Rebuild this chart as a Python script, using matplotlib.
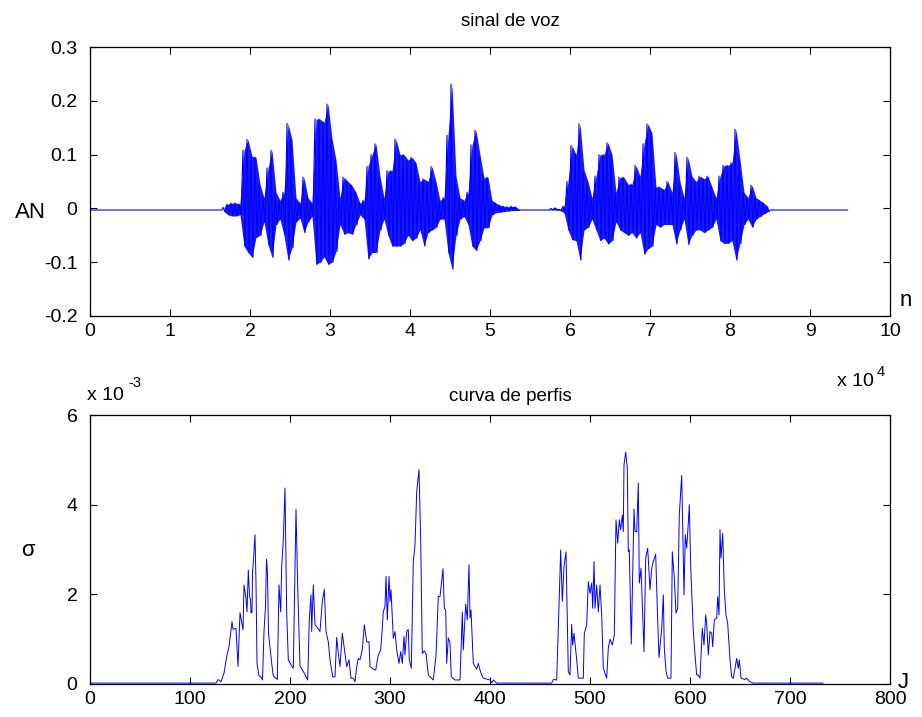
import numpy as np
import matplotlib
matplotlib.use("Agg")
import matplotlib.pyplot as plt

# ---------------- data ----------------
# speech signal: envelope (max / min) per block of 500 samples, starting at sample 16500
wave_start = 16500
wave_block = 500
wave_top = [
    0.002, 0.008, 0.010, 0.010, 0.008, 0.108, 0.128, 0.097, 0.095, 0.045,
    0.020, 0.075, 0.108, 0.030, 0.015, 0.030, 0.158, 0.128, 0.020, 0.010,
    0.058, 0.020, 0.010, 0.166, 0.166, 0.160, 0.194, 0.130, 0.090, 0.020,
    0.058, 0.050, 0.043, 0.030, 0.010, 0.015, 0.078, 0.100, 0.120, 0.060,
    0.020, 0.070, 0.070, 0.129, 0.100, 0.100, 0.090, 0.095, 0.085, 0.050,
    0.055, 0.050, 0.078, 0.050, 0.015, 0.020, 0.136, 0.231, 0.060, 0.020,
    0.015, 0.030, 0.118, 0.145, 0.100, 0.057, 0.058, 0.015, 0.010, 0.006,
    0.004, 0.003, 0.004, 0.003, -0.003, -0.003, -0.003, -0.003, -0.003, -0.003,
    -0.003, -0.003, 0.000, 0.001, -0.002, 0.004, 0.050, 0.117, 0.100, 0.157,
    0.072, 0.050, 0.020, 0.060, 0.100, 0.100, 0.122, 0.100, 0.030, 0.058,
    0.058, 0.045, 0.045, 0.080, 0.060, 0.120, 0.157, 0.140, 0.040, 0.040,
    0.035, 0.050, 0.030, 0.104, 0.050, 0.020, 0.095, 0.060, 0.050, 0.060,
    0.055, 0.060, 0.040, 0.020, 0.060, 0.080, 0.080, 0.085, 0.147, 0.090,
    0.030, 0.020, 0.043, 0.020, 0.015, 0.010, 0.003]
wave_bot = [
    -0.006, -0.012, -0.014, -0.014, -0.012, -0.070, -0.082, -0.091, -0.054, -0.050,
    -0.025, -0.067, -0.091, -0.030, -0.020, -0.050, -0.096, -0.073, -0.025, -0.018,
    -0.045, -0.025, -0.015, -0.104, -0.100, -0.090, -0.104, -0.100, -0.080, -0.030,
    -0.048, -0.045, -0.048, -0.030, -0.012, -0.020, -0.094, -0.082, -0.082, -0.040,
    -0.020, -0.050, -0.070, -0.070, -0.070, -0.065, -0.050, -0.060, -0.055, -0.040,
    -0.070, -0.045, -0.040, -0.035, -0.020, -0.020, -0.082, -0.113, -0.050, -0.020,
    -0.015, -0.030, -0.070, -0.078, -0.060, -0.036, -0.036, -0.012, -0.008, -0.007,
    -0.006, -0.005, -0.004, -0.004, -0.003, -0.003, -0.003, -0.003, -0.003, -0.003,
    -0.003, -0.003, -0.003, -0.003, -0.004, -0.008, -0.040, -0.058, -0.060, -0.096,
    -0.040, -0.035, -0.020, -0.040, -0.060, -0.055, -0.066, -0.060, -0.025, -0.040,
    -0.045, -0.050, -0.045, -0.055, -0.045, -0.085, -0.075, -0.070, -0.030, -0.035,
    -0.030, -0.030, -0.030, -0.066, -0.040, -0.020, -0.067, -0.050, -0.040, -0.040,
    -0.045, -0.040, -0.035, -0.020, -0.060, -0.065, -0.065, -0.060, -0.096, -0.065,
    -0.030, -0.020, -0.035, -0.020, -0.015, -0.010, -0.006]
wave_rest_level = -0.003
wave_length = 94700

# profile curve (sigma, in units of 1e-3) versus frame index J
sigma_x = [0, 126, 128, 131, 134, 137, 139, 142, 143, 146, 148, 150, 153, 154, 156, 157,
           158.3, 159.5, 160.5, 161, 162, 162.5, 163.5, 165, 166, 167, 169, 171, 172.5,
           174, 175.5, 176.5, 177.5, 178.5, 181.7, 183.3, 187.3, 189, 190.7, 191.7, 193.3,
           195, 196.7, 198.3, 201.7, 203.3, 205, 206, 207.7, 210, 214.3, 217.7, 219.3, 221,
           221.7, 223.3, 225, 226.7, 230, 232.3, 234.3, 236, 238.3, 240, 242.7, 245, 246.7,
           248.3, 250, 252.3, 255, 256.7, 259, 261, 263.3, 265, 266.7, 268.3, 270, 272.3,
           274.3, 276.7, 279, 280, 283.3, 285.7, 288.3, 290.7, 292.3, 293.3, 295, 296,
           297.3, 299, 300, 301, 302.3, 303.3, 305, 306.7, 309, 310.7, 312.3, 314, 315,
           316.7, 318.3, 319.3, 321.3, 323.3, 325, 326.7, 329, 330.7, 332.3, 334.3, 336,
           338.3, 343.3, 346, 348.3, 350, 353, 354.3, 355.7, 356.7, 358.3, 360, 361.3, 365,
           370, 372.3, 373.3, 375.7, 377.3, 379, 380, 381, 383.3, 386.7, 388.3, 390, 391.7,
           393.3, 400, 401.7, 403.3, 406.7, 461.7, 463.3, 466.7, 470.7, 472.3, 474, 476,
           478.3, 480, 481.7, 482.7, 484, 486.7, 488.3, 493.3, 494.3, 496.7, 498.3, 500,
           501.7, 502.7, 504, 505, 506.7, 508.3, 510, 511.7, 513.3, 516.7, 518.3, 520,
           522.3, 524.3, 526, 527.7, 529.3, 530.7, 532.3, 533.3, 534, 535.7, 537.3, 538.3,
           539.3, 541.3, 544, 545, 546.7, 548.3, 549.3, 551, 552.3, 554, 555.7, 557.7, 560,
           561.7, 563.3, 565.7, 567.3, 569, 571.7, 573.3, 574.3, 576, 577.7, 581, 582.3,
           584.3, 586, 587.7, 589.3, 591.7, 594, 595.3, 596.7, 598.3, 599.3, 600.7, 601.7,
           603.3, 605, 606.7, 608.3, 610, 612.3, 614, 615.7, 616.7, 618.3, 620, 621.7,
           622.7, 624.3, 626.7, 627.7, 629, 630, 631, 632.7, 634.3, 636, 637.7, 640, 641.7,
           643.3, 645, 646.7, 648.3, 649.3, 651, 655, 656.7, 660, 663.3, 733]
sigma_y = [0.02, 0.02, 0.10, 0.05, 0.24, 0.65, 0.83, 1.39, 1.22, 1.24, 0.39, 1.59, 1.21, 2.21, 1.91, 1.61,
           2.54, 1.95, 1.88, 1.59, 1.59, 2.47, 2.77, 3.33, 2.25, 0.46, 0.18, 0.16, 0.09,
           1.17, 1.73, 2.78, 2.47, 1.13, 0.46, 0.18, 0.10, 2.21, 1.61, 2.62, 3.21,
           4.37, 1.58, 0.54, 0.40, 0.35, 2.54, 3.90, 2.17, 0.40, 0.24, 0.09, 1.43, 1.99,
           1.17, 2.21, 1.32, 1.28, 1.17, 1.84, 2.11, 1.17, 0.94, 0.54, 0.16, 0.16, 1.04,
           0.68, 0.39, 1.13, 0.68, 0.39, 0.54, 0.13, 0.13, 0.05, 0.39, 0.57, 0.54, 0.76,
           1.32, 0.94, 0.94, 0.39, 0.33, 0.31, 0.65, 0.76, 1.24, 1.61, 1.73, 2.40,
           1.43, 2.40, 1.84, 2.10, 1.47, 1.02, 1.17, 0.76, 0.46, 0.72, 0.46, 1.06, 0.65,
           1.18, 1.21, 0.54, 0.35, 2.73, 3.10, 4.29, 4.78, 3.18, 0.68, 0.74, 0.68,
           0.20, 0.09, 0.63, 1.95, 1.95, 2.57, 1.69, 1.65, 0.46, 1.03, 0.92, 0.16, 0.09,
           0.09, 1.60, 0.76, 1.78, 1.43, 2.66, 1.47, 1.65, 0.46, 0.33, 0.46, 0.31, 0.20,
           0.13, 0.09, 0.03, 0.09, 0.02, 0.02, 0.10, 0.09, 2.99, 1.84, 2.62, 2.95,
           0.28, 0.20, 1.33, 0.87, 1.13, 0.54, 0.13, 0.13, 1.13, 1.32, 2.28, 2.02,
           2.25, 1.69, 2.73, 1.69, 2.21, 1.61, 2.21, 1.54, 0.35, 0.13, 0.80, 1.00,
           0.87, 1.09, 3.66, 3.14, 3.66, 3.44, 3.77, 3.40, 4.89, 5.17, 4.81, 2.95,
           2.99, 0.89, 3.90, 3.40, 3.40, 4.48, 2.25, 2.58, 1.76, 0.72, 2.81, 3.03, 2.10,
           2.58, 2.73, 2.89, 1.69, 0.59, 1.24, 1.99, 0.80, 0.29, 0.13, 0.13, 2.95,
           2.36, 1.58, 1.69, 3.77, 4.65, 1.99, 3.33, 3.03, 3.59, 4.00, 2.62, 2.06,
           1.17, 0.65, 0.20, 0.20, 0.13, 1.24, 0.87, 1.54, 1.35, 0.65, 1.17, 1.13,
           0.83, 1.43, 1.47, 1.95, 1.54, 3.44, 2.81, 3.36, 2.10, 1.54, 1.35, 0.54, 0.16,
           0.13, 0.35, 0.57, 0.35, 0.54, 0.13, 0.10, 0.13, 0.05, 0.02, 0.02]

top_xticks = [0, 10000, 20000, 30000, 40000, 50000, 60000, 70000, 80000, 90000, 100000]
top_xlabels = ["0", "1", "2", "3", "4", "5", "6", "7", "8", "9", "10"]
top_yticks = [-0.2, -0.1, 0.0, 0.1, 0.2, 0.3]
top_ylabels = ["-0.2", "-0.1", "0", "0.1", "0.2", "0.3"]
bot_xticks = [0, 100, 200, 300, 400, 500, 600, 700, 800]
bot_yticks = [0, 2, 4, 6]

# ---------------- build signal polyline ----------------
wx = [1, wave_start]
wy = [wave_rest_level, wave_rest_level]
for k, (t, b) in enumerate(zip(wave_top, wave_bot)):
    s = wave_start + k * wave_block
    wx += [s + wave_block * 0.25, s + wave_block * 0.75]
    wy += [t, b]
end_sig = wave_start + len(wave_top) * wave_block
wx += [end_sig, wave_length]
wy += [wave_rest_level, wave_rest_level]
block_centers = [wave_start + (k + 0.5) * wave_block for k in range(len(wave_top))]

# ---------------- figure ----------------
plt.rcParams['font.family'] = ['Liberation Sans', 'DejaVu Sans']
W, H = 922, 717
fig = plt.figure(figsize=(W / 100, H / 100), dpi=100)

def rect(l, t, r, b):
    return [l / W, 1 - b / H, (r - l) / W, (b - t) / H]

blue = '#0000ff'
tick_fs = 14

ax1 = fig.add_axes(rect(90, 47, 890, 316))
ax1.fill_between(block_centers, wave_bot, wave_top, color=blue, lw=0, alpha=0.9)
ax1.plot(wx, wy, color=blue, lw=0.8)
ax1.set_xlim(0, 100000)
ax1.set_ylim(-0.2, 0.3)
ax1.set_xticks(top_xticks)
ax1.set_xticklabels(top_xlabels)
ax1.set_yticks(top_yticks)
ax1.set_yticklabels(top_ylabels)

ax2 = fig.add_axes(rect(90, 415, 890, 684))
ax2.plot(sigma_x, sigma_y, color=blue, lw=0.7)
ax2.set_xlim(0, 800)
ax2.set_ylim(0, 6)
ax2.set_xticks(bot_xticks)
ax2.set_yticks(bot_yticks)

for ax in (ax1, ax2):
    ax.tick_params(direction='in', length=5, width=0.8, top=True, right=True,
                   labelsize=tick_fs, pad=5)
    ax.tick_params(axis='y', pad=9)
    for sp in ax.spines.values():
        sp.set_linewidth(0.9)

def ftext(px, py, s, **kw):
    fig.text(px / W, 1 - py / H, s, **kw)

ftext(510, 22, "sinal de voz", ha='center', va='center', fontsize=13.5)
ftext(510, 397, "curva de perfis", ha='center', va='center', fontsize=13.5)
ftext(30, 212, "AN", ha='center', va='center', fontsize=16)
ftext(906, 300, "n", ha='center', va='center', fontsize=16)
ftext(28, 551, "σ", ha='center', va='center', fontsize=16)
ftext(903, 682, "J", ha='center', va='center', fontsize=16)
# multipliers
ftext(837, 381, "x 10", ha='left', va='center', fontsize=tick_fs)
ftext(877, 372, "4", ha='left', va='center', fontsize=10.5)
ftext(87, 395, "x 10", ha='left', va='center', fontsize=tick_fs)
ftext(128, 383, "-3", ha='left', va='center', fontsize=10.5)

fig.savefig("out.png", dpi=100)
